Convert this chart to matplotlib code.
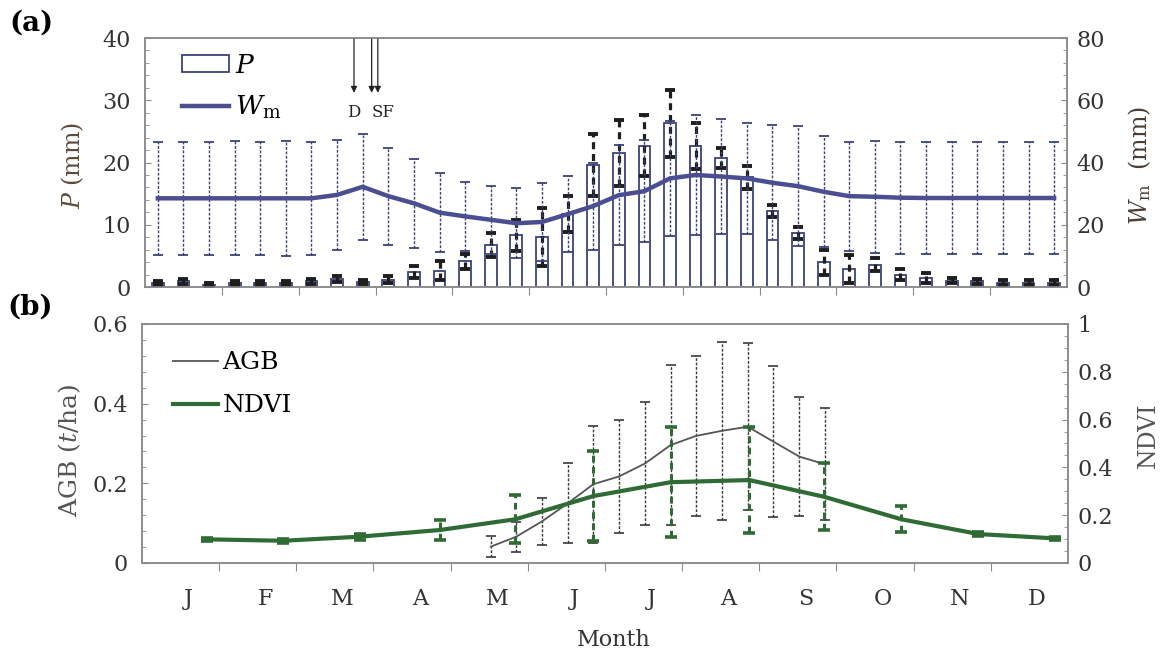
import matplotlib.pyplot as plt
from matplotlib.patches import Patch
from matplotlib.lines import Line2D
from matplotlib.ticker import MultipleLocator, FixedLocator, FixedFormatter

plt.rcParams['font.family'] = ['DejaVu Serif']
plt.rcParams['mathtext.fontset'] = 'dejavuserif'

months = ['J', 'F', 'M', 'A', 'M', 'J', 'J', 'A', 'S', 'O', 'N', 'D']

# (a) dekadal precipitation P and W_m (36 dekads)
dekads = list(range(36))
p_mean = [0.6, 0.9, 0.4, 0.7, 0.7, 0.6, 0.9, 1.3, 0.8, 1.2, 2.4, 2.6,
          4.1, 6.8, 8.3, 8.0, 11.7, 19.6, 21.5, 22.7, 26.3, 22.6, 20.7, 17.6,
          12.2, 8.7, 4.0, 2.9, 3.6, 2.0, 1.5, 1.0, 0.9, 0.7, 0.7, 0.7]
p_sd = [0.3, 0.4, 0.25, 0.3, 0.3, 0.3, 0.4, 0.5, 0.3, 0.6, 1.0, 1.5,
        1.2, 1.9, 2.5, 4.7, 2.9, 5.0, 5.3, 4.9, 5.4, 3.7, 1.6, 1.8,
        0.9, 1.0, 2.0, 2.3, 1.0, 0.9, 0.8, 0.4, 0.4, 0.4, 0.4, 0.4]
w_mean = [28.5, 28.5, 28.5, 28.5, 28.5, 28.5, 28.5, 29.6, 32.2, 29.2, 26.9, 23.9,
          22.7, 21.6, 20.5, 20.9, 23.4, 26.0, 29.5, 30.8, 34.9, 36.0, 35.5, 34.9,
          33.5, 32.4, 30.6, 29.2, 29.0, 28.7, 28.6, 28.6, 28.6, 28.6, 28.6, 28.6]
w_sd = [18.1, 18.1, 18.1, 18.3, 18.2, 18.4, 18.1, 17.7, 17.1, 15.6, 14.3, 12.7,
        11.0, 11.0, 11.2, 12.5, 12.3, 14.0, 16.0, 16.4, 18.6, 19.2, 18.4, 17.9,
        18.5, 19.2, 17.9, 17.5, 18.0, 18.0, 18.0, 18.0, 18.0, 18.0, 18.0, 18.0]

# sowing dates (dekad position)
events = ['D', 'S', 'F']
event_x = [7.66, 8.35, 8.59]

# (b) AGB (dekadal, May-Sep) and monthly NDVI, x in months
agb_x = [4.52, 4.85, 5.18, 5.52, 5.85, 6.18, 6.52, 6.85, 7.18, 7.52, 7.85, 8.18, 8.52, 8.85]
agb = [0.041, 0.066, 0.104, 0.150, 0.198, 0.217, 0.250, 0.296, 0.319, 0.332, 0.342, 0.305, 0.267, 0.248]
agb_sd = [0.026, 0.038, 0.06, 0.10, 0.147, 0.141, 0.155, 0.2, 0.2, 0.223, 0.21, 0.19, 0.15, 0.14]
ndvi_x = [0.84, 1.83, 2.82, 3.86, 4.84, 5.85, 6.85, 7.87, 8.84, 9.84, 10.84, 11.83]
ndvi = [0.099, 0.093, 0.110, 0.138, 0.183, 0.280, 0.338, 0.347, 0.277, 0.183, 0.121, 0.103]
ndvi_sd = [0.005, 0.008, 0.012, 0.042, 0.10, 0.19, 0.23, 0.22, 0.14, 0.055, 0.01, 0.006]

navy = '#3c4278'
wcol = '#4b4f92'
green = '#2f6b34'
spine = '#8a8a8a'
tickc = '#333333'

fig = plt.figure(figsize=(11.64, 6.58), dpi=100)
ax1 = fig.add_axes([0.1246, 0.5638, 0.792, 0.3784])
ax1r = ax1.twinx()
ax2 = fig.add_axes([0.122, 0.1444, 0.7955, 0.3632])
ax2r = ax2.twinx()

# ---- panel (a)
ax1.bar(dekads, p_mean, width=0.46, facecolor='white', edgecolor=navy, lw=1.3, zorder=2)
eb = ax1.errorbar(dekads, p_mean, yerr=p_sd, fmt='none', ecolor='#1e1e1e',
                  elinewidth=2.3, capsize=3.5, capthick=2.8, zorder=3)
eb[2][0].set_linestyle((0, (2.2, 1.5)))

eb = ax1r.errorbar(dekads, w_mean, yerr=w_sd, fmt='none', ecolor=navy,
                   elinewidth=1.0, capsize=3.6, capthick=1.3)
eb[2][0].set_linestyle((0, (2, 1.2)))
ax1r.plot(dekads, w_mean, color=wcol, lw=3.2)

ax1.set_xlim(-0.5, 35.5)
ax1.set_ylim(0, 40)
ax1r.set_ylim(0, 80)
ax1.set_xticks([2.5 + 3 * m for m in range(11)])
ax1.set_xticklabels([])
ax1.yaxis.set_major_locator(MultipleLocator(10))
ax1.yaxis.set_minor_locator(MultipleLocator(2))
ax1r.yaxis.set_major_locator(MultipleLocator(20))
ax1r.yaxis.set_minor_locator(MultipleLocator(4))

for x, name in zip(event_x, events):
    ax1.annotate('', xy=(x, 31.2), xytext=(x, 40),
                 arrowprops=dict(arrowstyle='-|>', lw=0.9, color='#222',
                                 mutation_scale=9, shrinkA=0, shrinkB=0))
ax1.text(event_x[0], 28.1, 'D', ha='center', va='center', fontsize=12, color='#222')
ax1.text(8.78, 28.1, 'SF', ha='center', va='center', fontsize=12, color='#222')

ax1.set_ylabel('$P$ (mm)', fontsize=17, color='#5e4a38')
ax1.yaxis.set_label_coords(-0.064, 0.49)
ax1r.set_ylabel('$W_{\\rm m}$  (mm)', fontsize=17, color='#4a3f36')
ax1r.yaxis.set_label_coords(1.064, 0.49)

h = [Patch(facecolor='white', edgecolor=navy, lw=1.3),
     Line2D([], [], color=wcol, lw=3.2)]
ax1.legend(h, ['$P$', '$W_{\\rm m}$'], loc='upper left', bbox_to_anchor=(0.04, 0.94),
           frameon=False, fontsize=19, handlelength=1.8, handleheight=0.6,
           handletextpad=0.2, labelspacing=0.6, borderpad=0, borderaxespad=0)

# ---- panel (b)
eb = ax2.errorbar(agb_x, agb, yerr=agb_sd, fmt='none', ecolor='#3a3a3a',
                  elinewidth=1.0, capsize=3.5, capthick=1.2)
eb[2][0].set_linestyle((0, (2, 1.2)))
ax2.plot(agb_x, agb, color='#555555', lw=1.3)

eb = ax2r.errorbar(ndvi_x, ndvi, yerr=ndvi_sd, fmt='none', ecolor=green,
                   elinewidth=2.2, capsize=4, capthick=2.6)
eb[2][0].set_linestyle((0, (2.2, 1.5)))
ax2r.plot(ndvi_x, ndvi, color=green, lw=3.0)

ax2.set_xlim(0, 12)
ax2.set_ylim(0, 0.6)
ax2r.set_ylim(0, 1)
ax2.set_xticks(range(1, 12))
ax2.set_xticklabels([])
ax2.xaxis.set_minor_locator(FixedLocator([m + 0.6 for m in range(12)]))
ax2.xaxis.set_minor_formatter(FixedFormatter(months))
ax2.yaxis.set_major_locator(FixedLocator([0, 0.2, 0.4, 0.6]))
ax2.yaxis.set_major_formatter(FixedFormatter(['0', '0.2', '0.4', '0.6']))
ax2.yaxis.set_minor_locator(MultipleLocator(0.04))
ax2r.yaxis.set_major_locator(FixedLocator([0, 0.2, 0.4, 0.6, 0.8, 1.0]))
ax2r.yaxis.set_major_formatter(FixedFormatter(['0', '0.2', '0.4', '0.6', '0.8', '1']))
ax2r.yaxis.set_minor_locator(MultipleLocator(0.05))

ax2.set_ylabel('AGB ($t$/ha)', fontsize=18, color='#555555')
ax2.yaxis.set_label_coords(-0.064, 0.47)
ax2r.set_ylabel('NDVI', fontsize=17, color='#555555')
ax2r.yaxis.set_label_coords(1.074, 0.535)

h = [Line2D([], [], color='#555555', lw=1.3), Line2D([], [], color=green, lw=3.0)]
ax2.legend(h, ['AGB', 'NDVI'], loc='upper left', bbox_to_anchor=(0.033, 0.885),
           frameon=False, fontsize=18, handlelength=1.8, handletextpad=0.2,
           labelspacing=0.8, borderpad=0, borderaxespad=0)

# common styling
for a in (ax1, ax1r, ax2, ax2r):
    for s in a.spines.values():
        s.set_color(spine)
        s.set_linewidth(1.1)
    a.tick_params(axis='y', which='both', direction='in', colors=spine,
                  labelcolor=tickc, labelsize=16)
    a.tick_params(axis='y', which='major', length=4)
    a.tick_params(axis='y', which='minor', length=3)
for a in (ax1, ax2):
    a.tick_params(axis='x', which='major', direction='out', length=6, colors=spine)
    a.tick_params(axis='y', pad=10)
for a in (ax1r, ax2r):
    a.tick_params(axis='y', pad=7)
ax2.tick_params(axis='x', which='minor', length=0, pad=18, labelsize=16, labelcolor=tickc)

fig.text(0.527, 0.027, 'Month', ha='center', va='center', fontsize=16, color='#333')
fig.text(0.008, 0.965, '(a)', fontsize=20, fontweight='bold', va='center')
fig.text(0.006, 0.533, '(b)', fontsize=20, fontweight='bold', va='center')

fig.savefig('out.png', dpi=100)
